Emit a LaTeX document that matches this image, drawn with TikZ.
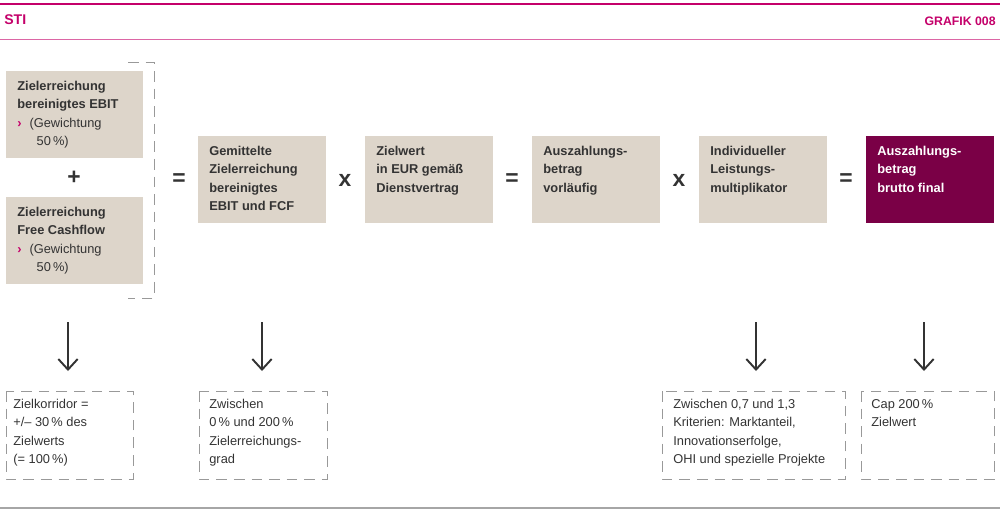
\documentclass[tikz,border=0pt]{standalone}
\usepackage{fontspec}
\setmainfont{Liberation Sans}
\begin{document}
\definecolor{beige}{HTML}{DDD5CA}
\definecolor{mag}{HTML}{C4006A}
\definecolor{wine}{HTML}{7A0046}
\definecolor{txt}{HTML}{333333}
\begin{tikzpicture}[x=0.02cm,y=-0.02cm,
 box/.style={fill=beige,anchor=north west,inner sep=0pt},
 bt/.style={anchor=north west,align=left,font=\fontsize{7.3}{10.4}\selectfont\bfseries,text=txt,inner sep=0pt},
 nt/.style={anchor=north west,align=left,font=\fontsize{7.3}{10.4}\selectfont,text=txt,inner sep=0pt},
 op/.style={font=\fontsize{13}{13}\selectfont\bfseries,text=txt},
 dbox/.style={draw=gray!80,dash pattern=on 6pt off 4pt,line width=0.5pt},
 arr/.style={draw=txt,line width=1.1pt,-{Straight Barb[length=6pt,width=11pt]}}]
\useasboundingbox (0,0) rectangle (1000,513);
\usetikzlibrary{arrows.meta}
\draw[mag,line width=0.6pt] (0,4)--(1000,4);
\draw[mag!60,line width=0.5pt] (0,39)--(1000,39);
\draw[gray!70,line width=0.6pt] (0,508)--(1000,508);
\node[anchor=west,text=mag,font=\fontsize{8}{10}\selectfont\bfseries,inner sep=0pt] (sti) at (4,20) {STI};
\node[anchor=east,text=mag,font=\fontsize{7}{10}\selectfont\bfseries,inner sep=0pt] (gr) at (996,21) {GRAFIK 008};
% boxes
\fill[beige] (6,71) rectangle (143,158);
\fill[beige] (6,197) rectangle (143,284);
\node[bt] (t1) at (17,81) {Zielerreichung\\bereinigtes EBIT};
\node[nt] (t1b) at (17,118) {\textcolor{mag}{\textbf{›}}\hspace{4.5pt}(Gewichtung\\\hspace{11pt}50\,\%)};
\node[bt] (t2) at (17,207) {Zielerreichung\\Free Cashflow};
\node[nt] (t2b) at (17,244) {\textcolor{mag}{\textbf{›}}\hspace{4.5pt}(Gewichtung\\\hspace{11pt}50\,\%)};
\node[op] (plus) at (74,178) {+};
\draw[dbox] (128,62)--(154,62)--(154,298)--(128,298);
\node[op] (e1) at (179,180) {=};
\node[op] (x1) at (345,180) {x};
\node[op] (e2) at (512,180) {=};
\node[op] (x2) at (679,180) {x};
\node[op] (e3) at (846,180) {=};
\fill[beige] (198,136) rectangle (326,223);
\fill[beige] (365,136) rectangle (493,223);
\fill[beige] (532,136) rectangle (660,223);
\fill[beige] (699,136) rectangle (827,223);
\fill[wine] (866,136) rectangle (994,223);
\node[bt] (b3) at (209,146) {Gemittelte\\Zielerreichung\\bereinigtes\\EBIT und FCF};
\node[bt] (b4) at (376,146) {Zielwert\\in EUR gemäß\\Dienstvertrag};
\node[bt] (b5) at (543,146) {Auszahlungs-\\betrag\\vorläufig};
\node[bt] (b6) at (710,146) {Individueller\\Leistungs-\\multiplikator};
\node[bt,text=white] (b7) at (877,146) {Auszahlungs-\\betrag\\brutto final};
% arrows
\foreach \x/\n in {68/a1,262/a2,756/a3,924/a4}{
 \coordinate (\n s) at (\x,322); \coordinate (\n e) at (\x,371);
 \draw[arr] (\n s)--(\n e);}
% dashed boxes
\draw[dbox] (6,391) rectangle (133,479);
\draw[dbox] (199,391) rectangle (327,479);
\draw[dbox] (662,391) rectangle (845,479);
\draw[dbox] (861,391) rectangle (994,479);
\node[nt] (d1) at (13,399) {Zielkorridor =\\+/– 30\,\% des\\Zielwerts\\(= 100\,\%)};
\node[nt] (d2) at (209,399) {Zwischen\\0\,\% und 200\,\%\\Zielerreichungs-\\grad};
\node[nt] (d3) at (673,399) {Zwischen 0,7 und 1,3\\Kriterien: Marktanteil,\\Innovationserfolge,\\OHI und spezielle Projekte};
\node[nt] (d4) at (871,399) {Cap 200\,\%\\Zielwert};
\end{tikzpicture}
\end{document}
